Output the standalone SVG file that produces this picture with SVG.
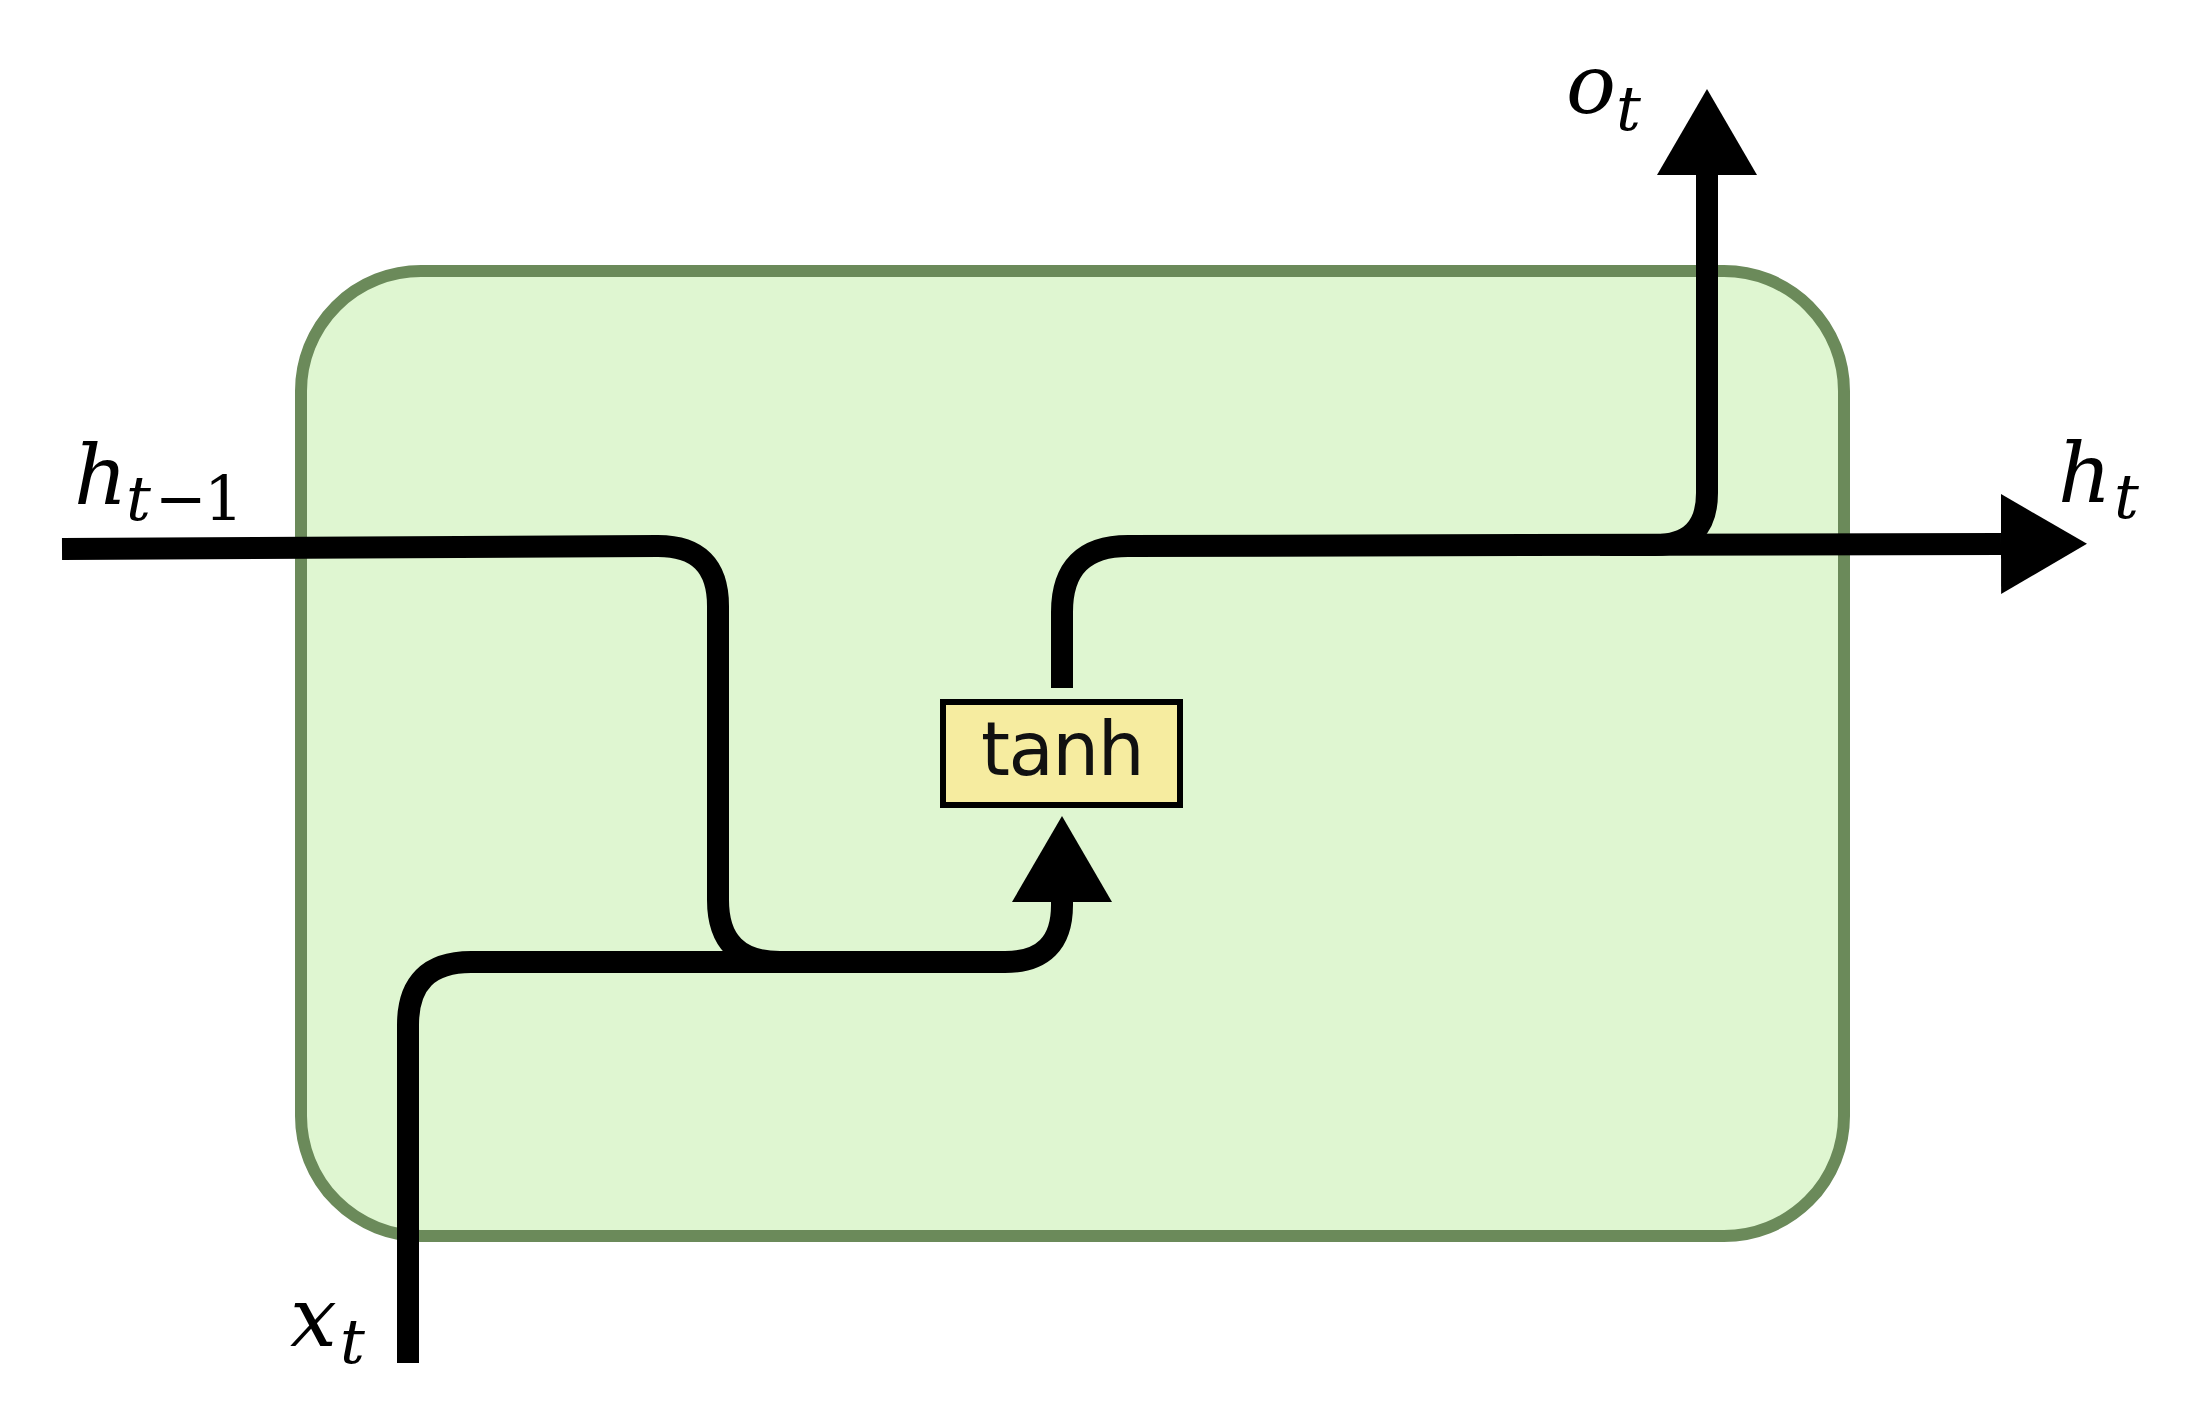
<svg xmlns="http://www.w3.org/2000/svg" width="2186" height="1420" viewBox="0 0 2186 1420">
<style>
.cell{fill:#dff6d1;stroke:#6b8a5a;stroke-width:12}
.op{fill:#f6eca0;stroke:#000;stroke-width:6}
.wire{fill:none;stroke:#000;stroke-width:22;stroke-linecap:butt;stroke-linejoin:round}
.m{font-family:"DejaVu Serif",serif;font-style:italic;fill:#000}
.up{font-style:normal}
.lbl{font-family:"DejaVu Sans",sans-serif;font-size:74px;letter-spacing:-1.5px;fill:#111;text-anchor:middle}
</style>
<defs>
<marker id="arr" viewBox="0 0 86 100" refX="0" refY="50" markerWidth="86" markerHeight="100" markerUnits="userSpaceOnUse" orient="auto">
<path d="M0,0 L86,50 L0,100 z" fill="#000"/>
</marker>
</defs>
<rect id="rnn_cell" class="cell" x="301" y="271" width="1543" height="965" rx="120" ry="120"/>
<g id="connectors">
<path class="wire" d="M62,549 L658,546 Q718,546 718,606 L718,900 Q718,962 780,962"/>
<path class="wire" d="M408,1363 L408,1025 Q408,962 471,962 L1005,962 Q1062,962 1062,905 L1062,902" marker-end="url(#arr)"/>
<path class="wire" d="M1062,688 L1062,612 Q1062,546 1128,546 L2001,544" marker-end="url(#arr)"/>
<path class="wire" d="M1600,545 L1655,545 Q1707,545 1707,493 L1707,175" marker-end="url(#arr)"/>
</g>
<g id="tanh">
<rect class="op" x="943" y="702" width="237" height="103"/>
<text class="lbl" x="1062" y="775">tanh</text>
</g>
<g id="label_h_prev">
<text class="m" x="74" y="504" font-size="83">h</text>
<text class="m" x="126" y="520" font-size="62">t</text>
<text class="m up" x="155" y="520" font-size="62">−</text>
<text class="m up" x="204" y="520" font-size="62">1</text>
</g>
<g id="label_h_t">
<text class="m" x="2058" y="502" font-size="83">h</text>
<text class="m" x="2114" y="518" font-size="62">t</text>
</g>
<g id="label_o_t">
<text class="m" x="1566" y="113" font-size="83">o</text>
<text class="m" x="1616" y="130" font-size="62">t</text>
</g>
<g id="label_x_t">
<text class="m" x="290" y="1346" font-size="83">x</text>
<text class="m" x="340" y="1363" font-size="62">t</text>
</g>
</svg>
